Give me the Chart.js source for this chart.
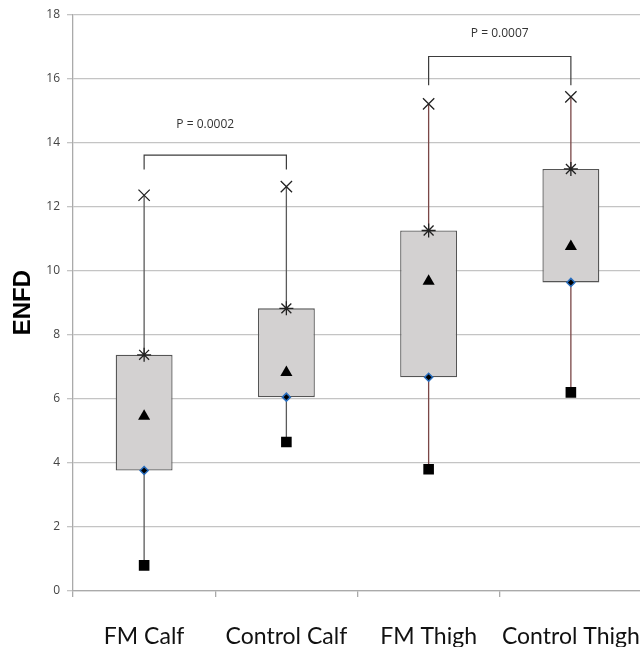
<!DOCTYPE html>
<html><head><meta charset="utf-8">
<script src="https://cdn.jsdelivr.net/npm/chart.js@4"></script>
<style>html,body{margin:0;padding:0;background:#fff;overflow:hidden;width:640px;height:647px}#wrap{position:absolute;left:0;top:0;width:652px;height:647px}</style>
</head><body><div id="wrap"><canvas id="c" width="652" height="647"></canvas></div>
<script>
const categories = ['FM Calf', 'Control Calf', 'FM Thigh', 'Control Thigh'];
const maxV  = [12.35, 12.62, 15.2, 15.42];
const q3V   = [7.37, 8.82, 11.25, 13.17];
const meanV = [5.45, 6.82, 9.67, 10.75];
const q1V   = [3.76, 6.05, 6.67, 9.63];
const minV  = [0.8, 4.65, 3.8, 6.2];
const yTicks = [0, 2, 4, 6, 8, 10, 12, 14, 16, 18];
const pLabels = ['P = 0.0002', 'P = 0.0007'];
const pPairs = [['FM Calf', 'Control Calf'], ['FM Thigh', 'Control Thigh']];
const pBracketTop = [13.6, 16.68];
const pBracketEnd = [13.15, 15.78];
const pTextY = [14.55, 17.4];

const whiskerColors = ['#5a5a5a', '#5a5a5a', '#7a4646', '#7a4646'];

const datasets = [];
datasets.push({type:'line', data:maxV, showLine:false, pointStyle:'crossRot', pointRadius:8, borderColor:'#222', borderWidth:1.3, backgroundColor:'#222', order:1});
datasets.push({type:'line', data:q3V, showLine:false, pointStyle:'star', pointRadius:7, borderColor:'#222', borderWidth:1.3, backgroundColor:'#222', order:1});
datasets.push({type:'line', data:meanV, showLine:false, pointStyle:'triangle', pointRadius:7, borderColor:'#000', borderWidth:0, backgroundColor:'#000', order:1});
datasets.push({type:'line', data:q1V, showLine:false, pointStyle:'rectRot', pointRadius:4, borderColor:'#2a6fc0', borderWidth:1.5, backgroundColor:'#000', order:1});
datasets.push({type:'line', data:minV, showLine:false, pointStyle:'rect', pointRadius:7.5, borderColor:'#000', borderWidth:0, backgroundColor:'#000', order:1});
datasets.push({type:'bar', data:categories.map((c,i)=>[q1V[i], q3V[i]]), backgroundColor:'#d3d1d1', borderColor:'#555', borderWidth:1.3, borderSkipped:false, barPercentage:0.4, categoryPercentage:1, order:5});
categories.forEach((c,i)=>{
  datasets.push({type:'line', data:[{x:c,y:minV[i]},{x:c,y:maxV[i]}], borderColor:whiskerColors[i], borderWidth:1.3, pointRadius:0, order:10});
});
pPairs.forEach((p,k)=>{
  datasets.push({type:'line', data:[{x:p[0],y:pBracketEnd[k]},{x:p[0],y:pBracketTop[k]},{x:p[1],y:pBracketTop[k]},{x:p[1],y:pBracketEnd[k]}], borderColor:'#3d3d3d', borderWidth:1.2, pointRadius:0, tension:0, order:10});
});

const pText = {
  id:'pText',
  afterDatasetsDraw(chart){
    const ctx = chart.ctx, xs = chart.scales.x, ys = chart.scales.y;
    ctx.save();
    ctx.font = '12px "Open Sans", sans-serif';
    ctx.fillStyle = '#333';
    ctx.textAlign = 'center';
    ctx.textBaseline = 'middle';
    pLabels.forEach((t,k)=>{
      const x = (xs.getPixelForValue(categories.indexOf(pPairs[k][0])) + xs.getPixelForValue(categories.indexOf(pPairs[k][1])))/2;
      ctx.fillText(t, x - (k===0?10:0), ys.getPixelForValue(pTextY[k]));
    });
    ctx.restore();
  }
};

new Chart(document.getElementById('c'), {
  data:{labels:categories, datasets},
  plugins:[pText],
  options:{
    responsive:false, animation:false,
    layout:{padding:{left:9, right:10, top:14, bottom:0}},
    plugins:{legend:{display:false}, tooltip:{enabled:false}},
    scales:{
      x:{type:'category', offset:true,
        grid:{offset:true, drawOnChartArea:false, drawTicks:true, tickLength:6, color:'#aaa', lineWidth:1.3},
        border:{display:true, color:'#aaa', width:1.3},
        ticks:{color:'#111', font:{size:23, family:'Lato, sans-serif'}, padding:26, maxRotation:0},
        afterFit(s){ s.height = 56; s.paddingLeft = 0; s.paddingRight = 0; }
      },
      y:{min:0, max:18,
        afterBuildTicks(s){ s.ticks = yTicks.map(v=>({value:v})); },
        grid:{color:'#c4c4c4', lineWidth:1.3, tickLength:6},
        border:{display:true, color:'#aaa', width:1.3},
        ticks:{color:'#444', font:{size:12, family:'"Open Sans", sans-serif'}, padding:7},
        title:{display:true, text:'ENFD', color:'#000', font:{size:24, weight:'bold', family:'"Liberation Sans", Arial, sans-serif'}, padding:{top:0,bottom:6}},
        afterFit(s){ s.width = 64; }
      }
    }
  }
});
</script></body></html>
